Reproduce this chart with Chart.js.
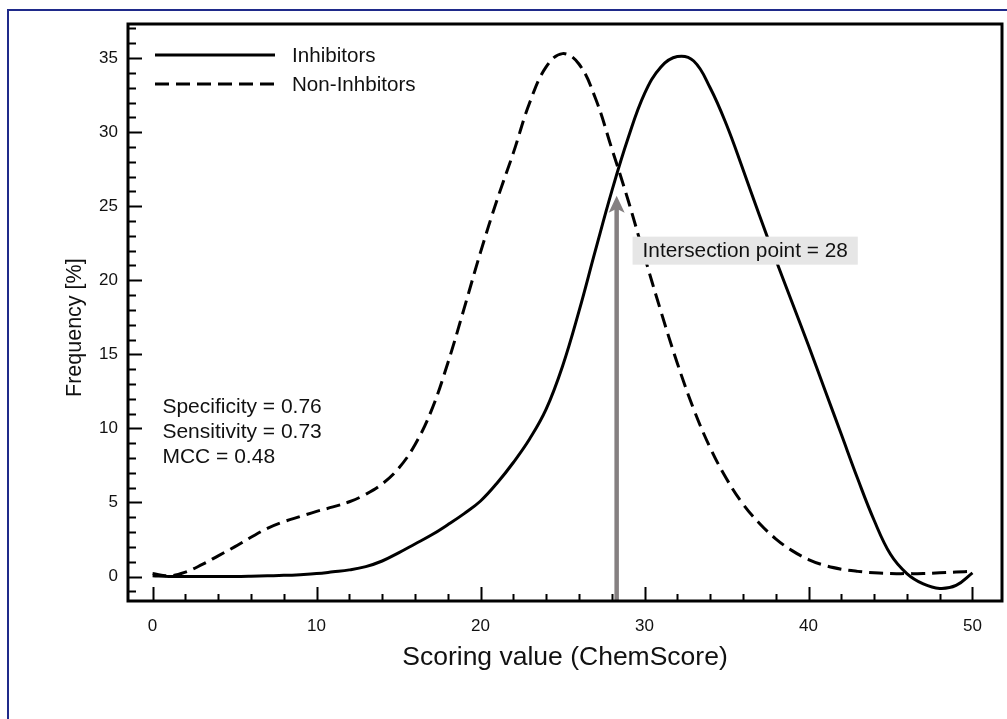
<!DOCTYPE html>
<html><head><meta charset="utf-8">
<script src="https://cdn.jsdelivr.net/npm/chart.js@4.4.1/dist/chart.umd.min.js"></script>
<style>html,body{margin:0;padding:0;background:#fff;overflow:hidden}#wrap{width:1007px;height:719px;position:relative}</style>
</head><body><div id="wrap"><canvas id="c" width="1007" height="719"></canvas></div>
<script>
// ---- data ----
const scores = [0,1,2,3,4,5,6,7,8,9,10,11,12,13,14,15,16,17,18,19,20,21,22,23,24,25,26,27,28,29,30,31,32,33,34,35,36,37,38,39,40,41,42,43,44,45,46,47,48,49,50];
const inhibitors = [0.05,0.0,0.0,0.0,0.0,0.0,0.02,0.05,0.08,0.13,0.2,0.32,0.45,0.67,1.05,1.6,2.2,2.8,3.5,4.25,5.1,6.3,7.7,9.3,11.3,14.2,17.9,22.0,26.0,29.6,32.6,34.4,35.1,34.8,33.0,30.5,27.5,24.4,21.4,18.5,15.6,12.6,9.6,6.6,3.8,1.5,0.2,-0.5,-0.8,-0.6,0.25];
const nonInhibitors = [0.2,0.05,0.3,0.8,1.4,2.0,2.65,3.25,3.7,4.05,4.4,4.7,5.05,5.55,6.25,7.3,8.9,11.2,14.4,18.1,21.9,25.4,28.6,32.0,34.4,35.3,34.6,32.3,28.9,25.4,21.6,17.9,14.4,11.3,8.7,6.6,4.9,3.6,2.55,1.75,1.15,0.75,0.5,0.35,0.25,0.2,0.2,0.2,0.25,0.3,0.35];
const seriesLabels = ["Inhibitors","Non-Inhbitors"];
const xTicks = [0,10,20,30,40,50];
const yTicks = [0,5,10,15,20,25,30,35];
const xMinorTicks = [0,2,4,6,8,10,12,14,16,18,20,22,24,26,28,30,32,34,36,38,40,42,44,46,48,50];
const yMinorTicks = [-1,0,1,2,3,4,5,6,7,8,9,10,11,12,13,14,15,16,17,18,19,20,21,22,23,24,25,26,27,28,29,30,31,32,33,34,35,36,37];
const statsLines = ["Specificity = 0.76","Sensitivity = 0.73","MCC = 0.48"];
const intersectionText = "Intersection point = 28";
const intersectionX = 28.3;
const arrowTipValue = 25.7;
const yTitle = "Frequency [%]";

const FONT = "'Liberation Sans', Arial, Helvetica, sans-serif";
const INK = '#111111';
const DASH = [14, 7];

const toPts = (vals) => scores.map((s, i) => ({x: s, y: vals[i]}));

const decor = {
  id: 'decor',
  afterDatasetsDraw(chart) {
    const {ctx, chartArea: a, scales: {x, y}} = chart;
    ctx.save();
    // arrow
    const ax = x.getPixelForValue(intersectionX);
    const tipY = y.getPixelForValue(arrowTipValue);
    ctx.strokeStyle = '#858081'; ctx.fillStyle = '#858081';
    ctx.lineWidth = 4.5;
    ctx.beginPath(); ctx.moveTo(ax, a.bottom); ctx.lineTo(ax, tipY + 10); ctx.stroke();
    ctx.beginPath();
    ctx.moveTo(ax, tipY); ctx.lineTo(ax - 8, tipY + 17); ctx.lineTo(ax, tipY + 13); ctx.lineTo(ax + 8, tipY + 17);
    ctx.closePath(); ctx.fill();
    // label box
    ctx.font = '20.8px ' + FONT;
    const tw = ctx.measureText(intersectionText).width;
    const bx = x.getPixelForValue(29.27);
    const by = y.getPixelForValue(22.0);
    ctx.fillStyle = '#e6e6e6';
    ctx.fillRect(bx, by - 14, tw + 20, 28);
    ctx.fillStyle = INK; ctx.textBaseline = 'middle'; ctx.textAlign = 'left';
    ctx.fillText(intersectionText, bx + 10, by + 1);
    ctx.restore();
  },
  afterDraw(chart) {
    const {ctx, chartArea: a, scales: {x, y}} = chart;
    ctx.save();
    // plot frame
    ctx.strokeStyle = '#000'; ctx.lineWidth = 3;
    ctx.strokeRect(a.left, a.top, a.right - a.left, a.bottom - a.top);
    // inward ticks
    ctx.lineWidth = 2;
    ctx.beginPath();
    xMinorTicks.forEach(v => {
      const px = Math.round(x.getPixelForValue(v)) + 0.5;
      const len = xTicks.includes(v) ? 14 : 7;
      ctx.moveTo(px, a.bottom); ctx.lineTo(px, a.bottom - len);
    });
    yMinorTicks.forEach(v => {
      const py = Math.round(y.getPixelForValue(v)) + 0.5;
      const len = yTicks.includes(v) ? 14 : 8;
      ctx.moveTo(a.left, py); ctx.lineTo(a.left + len, py);
    });
    ctx.stroke();
    // legend
    const ds = chart.data.datasets;
    ctx.font = '20.6px ' + FONT; ctx.textBaseline = 'middle'; ctx.textAlign = 'left';
    ds.forEach((d, i) => {
      const ly = a.top + 31 + i * 29;
      ctx.strokeStyle = '#000'; ctx.lineWidth = 3;
      ctx.setLineDash(d.borderDash || []);
      ctx.beginPath(); ctx.moveTo(a.left + 27, ly); ctx.lineTo(a.left + 147, ly); ctx.stroke();
      ctx.setLineDash([]);
      ctx.fillStyle = INK;
      ctx.fillText(d.label, a.left + 164, ly + 1);
    });
    // stats text
    ctx.font = '21px ' + FONT;
    const sx = x.getPixelForValue(0.6);
    statsLines.forEach((t, i) => {
      ctx.fillText(t, sx, y.getPixelForValue(11.4) + i * 25);
    });
    // y axis title
    ctx.save();
    ctx.translate(75, y.getPixelForValue(16.8));
    ctx.rotate(-Math.PI / 2);
    ctx.font = '21.5px ' + FONT; ctx.textAlign = 'center'; ctx.textBaseline = 'middle';
    ctx.fillStyle = INK;
    ctx.fillText(yTitle, 0, 0);
    ctx.restore();
    // outer blue frame
    ctx.strokeStyle = '#1f2a8a'; ctx.lineWidth = 2;
    ctx.strokeRect(8, 10, 1010, 760);
    ctx.restore();
  }
};

new Chart(document.getElementById('c'), {
  type: 'line',
  data: {
    datasets: [
      {label: seriesLabels[0], data: toPts(inhibitors), borderColor: '#000', borderWidth: 3, pointRadius: 0, tension: 0.4, fill: false},
      {label: seriesLabels[1], data: toPts(nonInhibitors), borderColor: '#000', borderWidth: 3, borderDash: DASH, pointRadius: 0, tension: 0.4, fill: false}
    ]
  },
  options: {
    responsive: false, animation: false, devicePixelRatio: 1,
    layout: {padding: {left: 0, top: 24, right: 5, bottom: 0}},
    plugins: {legend: {display: false}, tooltip: {enabled: false}},
    scales: {
      x: {
        type: 'linear', min: -1.5, max: 51.8,
        afterBuildTicks: s => { s.ticks = xTicks.map(v => ({value: v})); },
        afterFit: s => { s.height = 118; },
        grid: {display: false, drawTicks: false}, border: {display: false},
        ticks: {color: INK, font: {family: FONT, size: 17}, padding: 15, maxRotation: 0, autoSkip: false},
        title: {display: true, text: 'Scoring value (ChemScore)', color: INK, font: {family: FONT, size: 26.5}, padding: {top: 0, bottom: 45}}
      },
      y: {
        type: 'linear', min: -1.65, max: 37.3,
        afterBuildTicks: s => { s.ticks = yTicks.map(v => ({value: v})); },
        afterFit: s => { s.width = 128; },
        grid: {display: false, drawTicks: false}, border: {display: false},
        ticks: {color: INK, font: {family: FONT, size: 17}, padding: 10},
        title: {display: false}
      }
    }
  },
  plugins: [decor]
});
</script></body></html>
